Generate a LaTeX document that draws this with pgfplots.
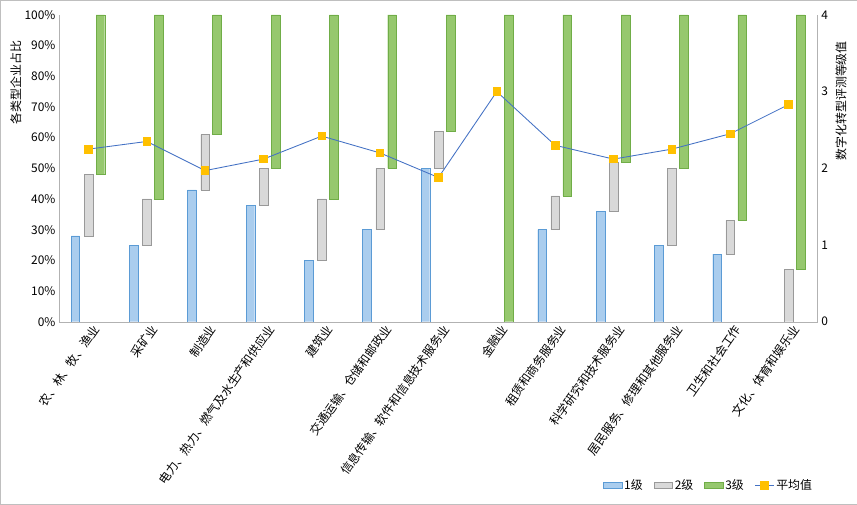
\documentclass[border=0pt]{standalone}
\usepackage{pgfplots}
\pgfplotsset{compat=1.18}
\usepackage{fontspec}
\setmainfont{Noto Sans CJK SC}
\begin{document}
\begin{tikzpicture}[x=1bp,y=1bp]
\pgfplotsset{every axis/.append style={font=\fontsize{11}{13}\selectfont, /pgf/number format/assume math mode=true}}
\begin{axis}[name=main, at={(0,0)}, anchor=south west, scale only axis, width=697bp, height=282bp,
  ybar stacked, bar width=8bp, xmin=-0.5, xmax=12.5, ymin=0, ymax=100,
  ytick={0,10,...,100}, yticklabel={\pgfmathprintnumber{\tick}\%},
  xtick={0,...,12}, xticklabels={农、林、牧、渔业,采矿业,制造业,电力、热力、燃气及水生产和供应业,建筑业,交通运输、仓储和邮政业,信息传输、软件和信息技术服务业,金融业,租赁和商务服务业,科学研究和技术服务业,居民服务、修理和其他服务业,卫生和社会工作,文化、体育和娱乐业},
  xticklabel style={rotate=55, anchor=north east, font=\fontsize{11}{13}\selectfont, xshift=4bp},
  major tick length=0pt, axis line style={gray!60}, ylabel={各类型企业占比}, ylabel style={at={(ticklabel cs:0.78)}, yshift=-4bp},
  axis y line*=left, axis x line*=bottom, draw=none]
\addplot+[bar shift=-12bp, draw={rgb,255:red,91;green,155;blue,213}, fill={rgb,255:red,170;green,205;blue,238}] coordinates {(0,28)(1,25)(2,43)(3,38)(4,20)(5,30)(6,50)(7,0)(8,30)(9,36)(10,25)(11,22)(12,0)};
\addplot+[bar shift=0bp, draw=gray!80, fill=gray!30] coordinates {(0,20)(1,15)(2,18)(3,12)(4,20)(5,20)(6,12)(7,0)(8,11)(9,16)(10,25)(11,11)(12,17)};
\addplot+[bar shift=11bp, draw={rgb,255:red,112;green,173;blue,71}, fill={rgb,255:red,150;green,200;blue,110}] coordinates {(0,52)(1,60)(2,39)(3,50)(4,60)(5,50)(6,38)(7,100)(8,59)(9,48)(10,50)(11,67)(12,83)};
\end{axis}
\begin{axis}[at={(0,0)}, anchor=south west, scale only axis, width=697bp, height=282bp,
  xmin=-0.5, xmax=12.5, ymin=0, ymax=4, ytick={0,1,2,3,4}, axis y line*=right, axis x line=none,
  major tick length=0pt, axis line style={gray!60}, ylabel={数字化转型评测等级值}, ylabel style={at={(ticklabel cs:0.72)}},
  legend style={at={(1.0,-0.5)}, anchor=north east, draw=none, legend columns=4, font=\fontsize{11}{13}\selectfont, /tikz/every even column/.append style={column sep=8bp}}]
\addlegendimage{area legend, draw={rgb,255:red,91;green,155;blue,213}, fill={rgb,255:red,170;green,205;blue,238}}\addlegendentry{1级}
\addlegendimage{area legend, draw=gray!80, fill=gray!30}\addlegendentry{2级}
\addlegendimage{area legend, draw={rgb,255:red,112;green,173;blue,71}, fill={rgb,255:red,150;green,200;blue,110}}\addlegendentry{3级}
\addplot[color={rgb,255:red,68;green,114;blue,196}, thick, mark=square*, mark size=3.5bp, mark options={draw={rgb,255:red,255;green,192;blue,0}, fill={rgb,255:red,255;green,192;blue,0}}] coordinates {(0,2.25)(1,2.35)(2,1.97)(3,2.12)(4,2.42)(5,2.2)(6,1.88)(7,3.0)(8,2.3)(9,2.12)(10,2.25)(11,2.45)(12,2.83)};
\addlegendentry{平均值}
\end{axis}
\draw[gray!50] ([shift={(-6bp,6bp)}]current bounding box.north west) rectangle ([shift={(6bp,-8bp)}]current bounding box.south east);
\end{tikzpicture}
\end{document}
